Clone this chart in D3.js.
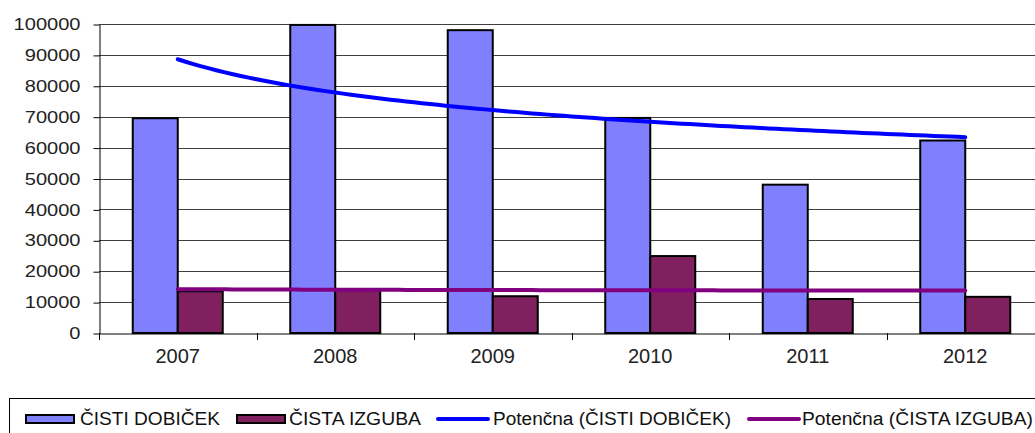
<!DOCTYPE html>
<html>
<head>
<meta charset="utf-8">
<script src="https://cdn.jsdelivr.net/npm/d3@7"></script>
<style>
html,body{margin:0;padding:0;background:#fff;overflow:hidden;}
svg{display:block;font-family:"Liberation Sans",Arial,sans-serif;}
</style>
</head>
<body>
<svg id="chart" width="1035" height="433"></svg>
<script>
const categories = ["2007","2008","2009","2010","2011","2012"];
const netProfit = [69500, 99700, 98000, 69600, 48000, 62300];
const netLoss   = [13500, 14000, 11900, 24900, 11000, 11700];
const yTicks = [0,10000,20000,30000,40000,50000,60000,70000,80000,90000,100000];
const legendLabels = ["ČISTI DOBIČEK","ČISTA IZGUBA","Potenčna (ČISTI DOBIČEK)","Potenčna (ČISTA IZGUBA)"];

(function(){
const svg = d3.select("#chart");
const plotLeft = 99, plotTop = 24, plotBottom = 333, bandW = 157.5;
const plotRight = plotLeft + bandW * categories.length;

const x = d3.scaleBand().domain(categories).range([plotLeft, plotRight]).padding(0);
const y = d3.scaleLinear().domain([0, 100000]).range([plotBottom, plotTop]);
const barW = 45;

// gridlines
svg.append("g").selectAll("line").data(yTicks.filter(d=>d>0)).join("line")
  .attr("x1", plotLeft).attr("x2", plotRight)
  .attr("y1", d=>Math.round(y(d))+0.5).attr("y2", d=>Math.round(y(d))+0.5)
  .attr("stroke", "#3f3f3f").attr("stroke-width", 1);

// y axis
const yAxis = d3.axisLeft(y).tickValues(yTicks).tickSize(6).tickSizeOuter(0).tickFormat(d3.format("d"));
const gy = svg.append("g").attr("transform", `translate(${plotLeft+0.5},0.5)`).call(yAxis);
gy.select(".domain").attr("stroke", "#000");
gy.selectAll(".tick line").attr("stroke", "#000");
gy.selectAll(".tick text")
  .attr("x", -19).attr("dy", "0.3em")
  .attr("font-size", 17).attr("fill", "#222")
  .attr("font-family", "Liberation Sans, Arial, sans-serif")
  .attr("textLength", d => String(d).length * 11.15)
  .attr("lengthAdjust", "spacingAndGlyphs");

// bars
const groups = svg.append("g").selectAll("g").data(categories).join("g");
groups.append("rect")
  .attr("x", (d)=>x(d)+bandW/2-barW)
  .attr("y", (d,i)=>y(netProfit[i]))
  .attr("width", barW)
  .attr("height", (d,i)=>plotBottom - y(netProfit[i]))
  .attr("fill", "#8080ff").attr("stroke", "#000").attr("stroke-width", 2);
groups.append("rect")
  .attr("x", (d)=>x(d)+bandW/2)
  .attr("y", (d,i)=>y(netLoss[i]))
  .attr("width", barW)
  .attr("height", (d,i)=>plotBottom - y(netLoss[i]))
  .attr("fill", "#80205f").attr("stroke", "#000").attr("stroke-width", 2);

// x axis
const xAxis = d3.axisBottom(x).tickSize(0).tickSizeOuter(0);
const gx = svg.append("g").attr("transform", `translate(0,${plotBottom+0.5})`).call(xAxis);
gx.select(".domain").attr("stroke", "#000");
gx.selectAll(".tick text").attr("y", 15).attr("dy", "0.71em")
  .attr("font-size", 20).attr("fill", "#222")
  .attr("font-family", "Liberation Sans, Arial, sans-serif");
// category boundary tick marks
svg.append("g").selectAll("line").data(d3.range(categories.length+1)).join("line")
  .attr("x1", i=>Math.round(plotLeft + i*bandW)+0.5).attr("x2", i=>Math.round(plotLeft + i*bandW)+0.5)
  .attr("y1", plotBottom).attr("y2", plotBottom+7).attr("stroke", "#000");

// power trendlines (least squares fit of ln y on ln x)
function powerFit(vals){
  const lx = vals.map((v,i)=>Math.log(i+1)), ly = vals.map(v=>Math.log(v));
  const mx = d3.mean(lx), my = d3.mean(ly);
  const b = d3.sum(lx.map((v,i)=>(v-mx)*(ly[i]-my))) / d3.sum(lx.map(v=>(v-mx)*(v-mx)));
  const a = Math.exp(my - b*mx);
  return t => a*Math.pow(t,b);
}
const xc = t => plotLeft + bandW*(t-0.5);
const samples = d3.range(1, 6.0001, 0.05);
const line = d3.line().x(d=>d[0]).y(d=>d[1]);
[[netProfit,"#0000ff"],[netLoss,"#800080"]].forEach(([vals,col])=>{
  const f = powerFit(vals);
  svg.append("path").attr("d", line(samples.map(t=>[xc(t), y(f(t))])))
    .attr("fill","none").attr("stroke", col).attr("stroke-width", 4).attr("stroke-linecap","round");
});

// legend
const lg = svg.append("g");
lg.append("rect").attr("x", 9.5).attr("y", 398.5).attr("width", 1100).attr("height", 100)
  .attr("fill", "#fff").attr("stroke", "#000").attr("stroke-width", 1);
const items = [
  {x:26, type:"rect", fill:"#8080ff", tx:80},
  {x:237, type:"rect", fill:"#80205f", tx:289},
  {x:438, type:"line", fill:"#0000ff", tx:493},
  {x:749, type:"line", fill:"#800080", tx:802}
];
const textLens = [140, 132, 238, 231];
items.forEach((it,i)=>{
  if(it.type==="rect"){
    lg.append("rect").attr("x", it.x).attr("y", 415).attr("width", 48).attr("height", 8)
      .attr("fill", it.fill).attr("stroke", "#000").attr("stroke-width", 2);
  } else {
    lg.append("line").attr("x1", it.x).attr("x2", it.x+50).attr("y1", 419).attr("y2", 419)
      .attr("stroke", it.fill).attr("stroke-width", 4).attr("stroke-linecap","round");
  }
  lg.append("text").attr("x", it.tx).attr("y", 425)
    .attr("font-size", 18).attr("fill", "#111")
    .attr("textLength", textLens[i]).attr("lengthAdjust","spacingAndGlyphs")
    .text(legendLabels[i]);
});
})();
</script>
</body>
</html>
